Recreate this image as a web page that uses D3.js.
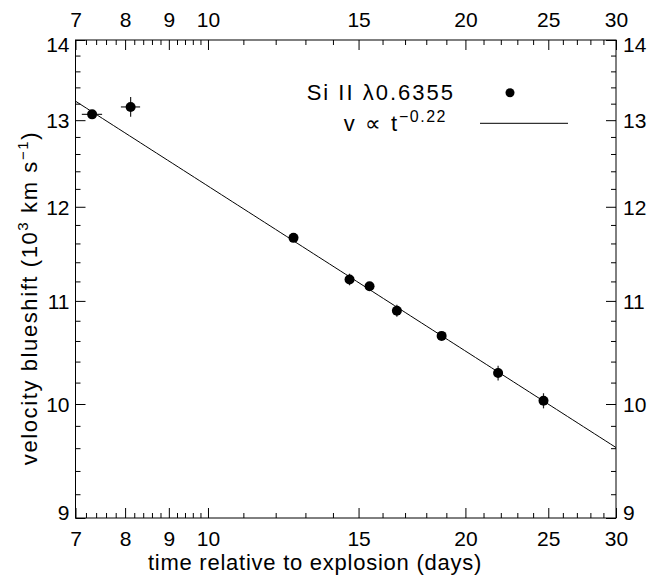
<!DOCTYPE html>
<html>
<head>
<meta charset="utf-8">
<script src="https://cdn.jsdelivr.net/npm/d3@7"></script>
<style>
  html, body { margin: 0; padding: 0; background: #fff; }
  svg text { font-family: "Liberation Sans", Arial, Helvetica, sans-serif; fill: #000; }
</style>
</head>
<body>
<svg id="chart" width="664" height="577"></svg>
<script>
// ---- data ----
const times      = [7.32, 8.12, 12.59, 14.64, 15.45, 16.63, 18.76, 21.84, 24.68];
const velocities = [13.07, 13.16, 11.66, 11.22, 11.15, 10.90, 10.65, 10.29, 10.03];
const timeErr    = [0.20, 0.21, 0.10, 0.10, 0.10, 0.10, 0.10, 0.10, 0.10];
const velErr     = [0.04, 0.12, 0.04, 0.06, 0.04, 0.06, 0.04, 0.07, 0.07];
const fitCoef = 20.30;     // v = A * t^index
const fitIndex = -0.22;
const xMajorTicks = [7, 8, 9, 10, 15, 20, 25, 30];
const xMinorTicks = [7.2, 7.4, 7.6, 7.8, 8.2, 8.4, 8.6, 8.8, 9.2, 9.4, 9.6, 9.8,
                     11, 12, 13, 14, 16, 17, 18, 19, 21, 22, 23, 24, 26, 27, 28, 29];
const yMajorTicks = [9, 10, 11, 12, 13, 14];
const yMinorTicks = [9.2, 9.4, 9.6, 9.8, 10.2, 10.4, 10.6, 10.8, 11.2, 11.4, 11.6, 11.8,
                     12.2, 12.4, 12.6, 12.8, 13.2, 13.4, 13.6, 13.8];
const xDomain = [7, 30];
const yDomain = [9, 14];

// ---- layout ----
const L = 75.5, R = 616, T = 40, B = 518;
const svg = d3.select("#chart");
const x = d3.scaleLog().domain(xDomain).range([L, R]);
const y = d3.scaleLog().domain(yDomain).range([B, T]);
const fmt = d => String(d);
const majorLen = 10, minorLen = 5, fontTick = 21;

function styleAxis(g) {
  g.select(".domain").remove();
  g.selectAll("line").attr("stroke", "#000").attr("stroke-width", 1);
  g.selectAll("text").style("font-size", fontTick + "px")
   .style("font-family", '"Liberation Sans", Arial, sans-serif');
}

// bottom
svg.append("g").attr("transform", `translate(0,${B})`)
  .call(d3.axisBottom(x).tickValues(xMajorTicks).tickFormat(fmt).tickSizeInner(-majorLen).tickSizeOuter(0).tickPadding(13))
  .call(styleAxis);
svg.append("g").attr("transform", `translate(0,${B})`)
  .call(d3.axisBottom(x).tickValues(xMinorTicks).tickFormat("").tickSizeInner(-minorLen).tickSizeOuter(0))
  .call(styleAxis);
// top
svg.append("g").attr("transform", `translate(0,${T})`)
  .call(d3.axisTop(x).tickValues(xMajorTicks).tickFormat(fmt).tickSizeInner(-majorLen).tickSizeOuter(0).tickPadding(13))
  .call(styleAxis);
svg.append("g").attr("transform", `translate(0,${T})`)
  .call(d3.axisTop(x).tickValues(xMinorTicks).tickFormat("").tickSizeInner(-minorLen).tickSizeOuter(0))
  .call(styleAxis);
// left
svg.append("g").attr("transform", `translate(${L},0)`)
  .call(d3.axisLeft(y).tickValues(yMajorTicks).tickFormat(fmt).tickSizeInner(-majorLen).tickSizeOuter(0).tickPadding(6))
  .call(styleAxis)
  .selectAll("text").attr("dy", d => d === 14 ? "0.55em" : d === 9 ? "0.05em" : "0.35em");
svg.append("g").attr("transform", `translate(${L},0)`)
  .call(d3.axisLeft(y).tickValues(yMinorTicks).tickFormat("").tickSizeInner(-minorLen).tickSizeOuter(0))
  .call(styleAxis);
// right
svg.append("g").attr("transform", `translate(${R},0)`)
  .call(d3.axisRight(y).tickValues(yMajorTicks).tickFormat(fmt).tickSizeInner(-majorLen).tickSizeOuter(0).tickPadding(7))
  .call(styleAxis)
  .selectAll("text").attr("dy", d => d === 14 ? "0.55em" : d === 9 ? "0.05em" : "0.35em");
svg.append("g").attr("transform", `translate(${R},0)`)
  .call(d3.axisRight(y).tickValues(yMinorTicks).tickFormat("").tickSizeInner(-minorLen).tickSizeOuter(0))
  .call(styleAxis);

// frame
svg.append("rect").attr("x", L).attr("y", T).attr("width", R - L).attr("height", B - T)
  .attr("fill", "none").attr("stroke", "#000").attr("stroke-width", 1);

// fit line
const fitData = d3.range(0, 101).map(i => {
  const t = xDomain[0] * Math.pow(xDomain[1] / xDomain[0], i / 100);
  return [t, fitCoef * Math.pow(t, fitIndex)];
});
svg.append("path").datum(fitData)
  .attr("d", d3.line().x(d => x(d[0])).y(d => y(d[1])))
  .attr("fill", "none").attr("stroke", "#000").attr("stroke-width", 1);

// error bars
const pts = times.map((t, i) => ({ t, v: velocities[i], et: timeErr[i], ev: velErr[i] }));
const eb = svg.append("g").attr("stroke", "#222").attr("stroke-width", 1.2);
eb.selectAll("line.h").data(pts).join("line").attr("class", "h")
  .attr("x1", d => x(d.t - d.et)).attr("x2", d => x(d.t + d.et))
  .attr("y1", d => y(d.v)).attr("y2", d => y(d.v));
eb.selectAll("line.v").data(pts).join("line").attr("class", "v")
  .attr("x1", d => x(d.t)).attr("x2", d => x(d.t))
  .attr("y1", d => y(d.v - d.ev)).attr("y2", d => y(d.v + d.ev));

// points
svg.append("g").selectAll("circle").data(pts).join("circle")
  .attr("cx", d => x(d.t)).attr("cy", d => y(d.v)).attr("r", 5).attr("fill", "#000");

// legend
const lg = svg.append("g");
lg.append("text").attr("x", 455).attr("y", 100).attr("text-anchor", "end")
  .style("font-size", "22px").style("letter-spacing", "2px").text("Si II λ0.6355");
lg.append("circle").attr("cx", 510).attr("cy", 92.7).attr("r", 4.5).attr("fill", "#000");
const t2 = lg.append("text").attr("x", 447).attr("y", 131).attr("text-anchor", "end")
  .style("font-size", "22px").style("letter-spacing", "2px");
t2.append("tspan").text("v ∝ t");
t2.append("tspan").attr("dy", -9).style("font-size", "16px").style("letter-spacing", "1.5px").text("−0.22");
lg.append("line").attr("x1", 480).attr("x2", 568).attr("y1", 123.3).attr("y2", 123.3)
  .attr("stroke", "#000").attr("stroke-width", 1);

// axis titles
svg.append("text").attr("x", 315).attr("y", 570).attr("text-anchor", "middle")
  .style("font-size", "22px").style("letter-spacing", "0.75px").text("time relative to explosion (days)");
const yt = svg.append("text").attr("transform", "translate(37,298) rotate(-90)")
  .attr("text-anchor", "middle").style("font-size", "22px").style("letter-spacing", "1.6px");
yt.append("tspan").text("velocity blueshift (10");
yt.append("tspan").attr("dy", -9).style("font-size", "15px").text("3");
yt.append("tspan").attr("dy", 9).text(" km s");
yt.append("tspan").attr("dy", -9).style("font-size", "15px").text("−1");
yt.append("tspan").attr("dy", 9).text(")");
</script>
</body>
</html>
